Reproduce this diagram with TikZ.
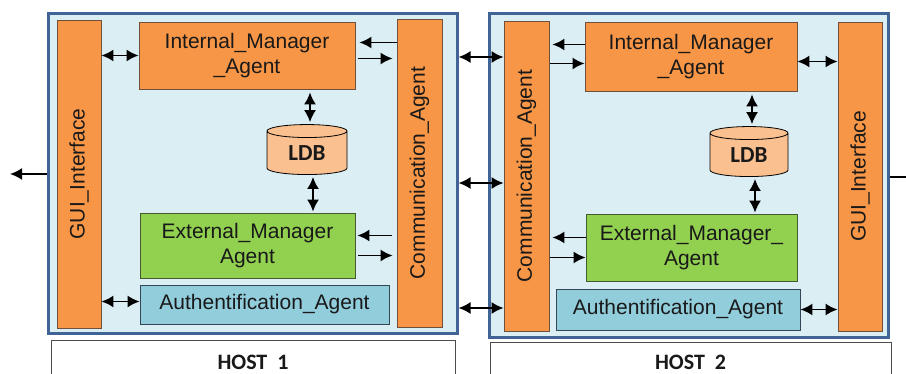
\documentclass[tikz,border=0pt]{standalone}
\usepackage{fontspec}
\usepackage{graphicx}
\setmainfont{Liberation Sans}
\newfontfamily\hostfont{Carlito}
\usetikzlibrary{arrows.meta,shapes.geometric}

\definecolor{hostfill}{RGB}{219,238,244}
\definecolor{hostline}{RGB}{64,100,150}
\definecolor{agentorange}{RGB}{247,150,70}
\definecolor{orangeline}{RGB}{110,80,60}
\definecolor{agentgreen}{RGB}{146,208,80}
\definecolor{greenline}{RGB}{70,90,50}
\definecolor{authblue}{RGB}{146,205,220}
\definecolor{authline}{RGB}{50,70,85}
\definecolor{dbfill}{RGB}{250,192,144}

\begin{document}
\begin{tikzpicture}[x=1pt,y=-1pt,>={Latex[length=12pt,width=12pt]},
 every node/.style={font=\fontsize{21}{25}\selectfont,text=black!90},
 hostbox/.style={draw=hostline,line width=3pt,fill=hostfill,inner sep=0pt},
 agentbox/.style={draw=orangeline,line width=.8pt,fill=agentorange,inner sep=0pt,align=center},
 extbox/.style={agentbox,draw=greenline,fill=agentgreen},
 authbox/.style={agentbox,draw=authline,fill=authblue},
 dbbox/.style={cylinder,shape border rotate=90,aspect=.35,draw=black,line width=.8pt,fill=dbfill,
   minimum width=80pt,minimum height=50pt,inner sep=0pt,font=\hostfont\bfseries\fontsize{23}{27}\selectfont},
 hostlabel/.style={draw=black!70,line width=.6pt,fill=white,inner sep=0pt,
   font=\hostfont\bfseries\fontsize{22}{26}\selectfont},
 conn/.style={line width=1.8pt,black}]
\useasboundingbox (0,0) rectangle (906,374);
\clip (0,0) rectangle (906,374);

% host 1
\node[hostbox,minimum width=409pt,minimum height=320pt] (h1box) at (252.5,174) {};
\node[hostlabel,minimum width=404pt,minimum height=44pt] (h1label) at (253,362) {HOST~~1};
\node[agentbox,minimum width=44pt,minimum height=308pt] (h1gui) at (79,174) {\rotatebox{90}{GUI\_Interface}};
\node[agentbox,minimum width=45pt,minimum height=308pt] (h1comm) at (419.5,173) {\rotatebox{90}{Communication\_Agent}};
\node[agentbox,minimum width=216pt,minimum height=67pt] (h1int) at (247,55.5) {Internal\_Manager\\\_Agent};
\node[dbbox] (h1ldb) at (307,153) {LDB};
\node[extbox,minimum width=215pt,minimum height=65pt] (h1ext) at (247.5,245.5) {External\_Manager\\Agent};
\node[authbox,minimum width=249pt,minimum height=39pt] (h1auth) at (264.5,304.5) {Authentification\_Agent};

% host 2
\node[hostbox,minimum width=399pt,minimum height=324pt] (h2box) at (688.5,176) {};
\node[hostlabel,minimum width=401pt,minimum height=40pt] (h2label) at (690.5,362) {HOST~~2};
\node[agentbox,minimum width=45pt,minimum height=310pt] (h2comm) at (526.5,176) {\rotatebox{90}{Communication\_Agent}};
\node[agentbox,minimum width=44pt,minimum height=309pt] (h2gui) at (860,176.5) {\rotatebox{90}{GUI\_Interface}};
\node[agentbox,minimum width=212pt,minimum height=69pt] (h2int) at (691,56.5) {Internal\_Manager\\\_Agent};
\node[dbbox,minimum width=78pt] (h2ldb) at (749,155) {LDB};
\node[extbox,minimum width=211pt,minimum height=67pt] (h2ext) at (691.5,247.5) {External\_Manager\_\\Agent};
\node[authbox,minimum width=244pt,minimum height=41pt] (h2auth) at (678,309.5) {Authentification\_Agent};

\coordinate (leftout) at (10,174);
\coordinate (rightout) at (922,177);

% links inside host 1
\draw[conn,<->] (h1gui.east |- h1int.west) -- (h1int.west);
\draw[conn,<->] ([yshift=3pt]h1auth.west -| h1gui.east) -- ([yshift=3pt]h1auth.west);
\draw[conn,->] ([yshift=13pt]h1int.east -| h1comm.west) -- ([yshift=13pt,xshift=4pt]h1int.east);
\draw[conn,->] ([yshift=-3pt,xshift=3pt]h1int.east) -- ([yshift=-3pt,xshift=-4pt]h1int.east -| h1comm.west);
\draw[conn,->] ([yshift=10pt,xshift=-5pt]h1ext.east -| h1comm.west) -- ([yshift=10pt,xshift=2pt]h1ext.east);
\draw[conn,->] ([yshift=-10pt,xshift=3pt]h1ext.east) -- ([yshift=-10pt,xshift=-4pt]h1ext.east -| h1comm.west);
\draw[conn,<->,shorten <=3pt,shorten >=2pt] ([xshift=3pt]h1int.south -| h1ldb) -- ([xshift=3pt]h1ldb.north);
\draw[conn,<->,shorten <=2pt,shorten >=1pt] ([xshift=6pt]h1ldb.south) -- ([xshift=6pt]h1ext.north -| h1ldb);
\draw[conn,->] (h1box.west) -- (leftout);

% links between the hosts
\foreach \dy in {117,-9,-134}
  \draw[conn,<->] ([yshift=\dy pt]h1box.east) -- ([yshift=\dy pt]h1box.east -| h2comm.west);

% links inside host 2
\draw[conn,->] ([yshift=12pt]h2int.west) -- ([yshift=12pt,xshift=3pt]h2int.west -| h2comm.east);
\draw[conn,->] ([yshift=-7pt,xshift=1pt]h2int.west -| h2comm.east) -- ([yshift=-7pt]h2int.west);
\draw[conn,->] ([yshift=10pt]h2ext.west) -- ([yshift=10pt,xshift=3pt]h2ext.west -| h2comm.east);
\draw[conn,->] ([yshift=-10pt,xshift=1pt]h2ext.west -| h2comm.east) -- ([yshift=-10pt]h2ext.west);
\draw[conn,<->] ([yshift=-5pt]h2int.east) -- ([yshift=-5pt]h2int.east -| h2gui.west);
\draw[conn,<->] (h2auth.east) -- (h2auth.east -| h2gui.west);
\draw[conn,<->,shorten <=3pt,shorten >=2pt] ([xshift=3pt]h2int.south -| h2ldb) -- ([xshift=3pt]h2ldb.north);
\draw[conn,<->,shorten <=2pt,shorten >=1pt] ([xshift=6pt]h2ldb.south) -- ([xshift=6pt]h2ext.north -| h2ldb);
\draw[conn,->] (h2box.east |- rightout) -- (rightout);
\end{tikzpicture}
\end{document}
